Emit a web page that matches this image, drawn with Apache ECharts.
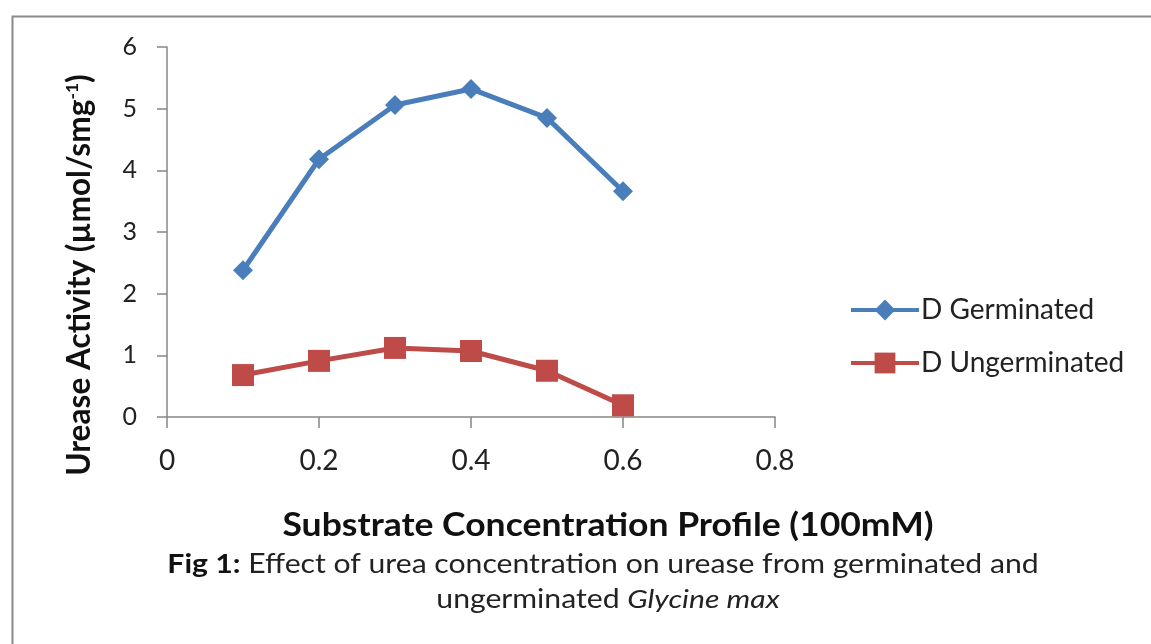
<!DOCTYPE html>
<html><head><meta charset="utf-8">
<script src="https://cdn.jsdelivr.net/npm/echarts@6/dist/echarts.min.js"></script>
<style>html,body{margin:0;padding:0;background:#fff}#c{width:1151px;height:644px}</style>
</head><body><div id="c"></div>
<script>
const xValues = [0.1, 0.2, 0.3, 0.4, 0.5, 0.6];
const germinated = [2.38, 4.18, 5.06, 5.32, 4.85, 3.66];
const ungerminated = [0.68, 0.91, 1.12, 1.07, 0.75, 0.19];
const seriesNames = ['D Germinated', 'D Ungerminated'];
const xTitle = 'Substrate Concentration Profile (100mM)';
const yTitle = 'Urease Activity (µmol/smg{sup|-1})';
const caption1 = '{b|Fig 1:} Effect of urea concentration on urease from germinated and';
const caption2 = 'ungerminated {i|Glycine max}';
const FONT = 'Lato';

const chart = echarts.init(document.getElementById('c'), null, {renderer: 'canvas'});
const axisColor = '#878787';
chart.setOption({
  animation: false,
  backgroundColor: '#fff',
  textStyle: {fontFamily: FONT},
  grid: {left: 167, right: 376, top: 47, bottom: 227},
  legend: {
    orient: 'vertical', left: 844, top: 291, itemWidth: 68, itemHeight: 26, itemGap: 25,
    lineStyle: {width: 4},
    textStyle: {fontFamily: FONT, fontSize: 28, color: '#222', padding: [0, 0, 0, -3]},
    data: seriesNames
  },
  xAxis: {
    type: 'value', min: 0, max: 0.8, interval: 0.2,
    axisLine: {lineStyle: {color: axisColor, width: 1.5}},
    axisTick: {show: true, length: 11, lineStyle: {color: axisColor, width: 1.5}},
    axisLabel: {fontFamily: FONT, fontSize: 28, color: '#222', margin: 30, formatter: v => String(v)},
    splitLine: {show: false}
  },
  yAxis: {
    type: 'value', min: 0, max: 6, interval: 1,
    axisLine: {show: true, lineStyle: {color: axisColor, width: 1.5}},
    axisTick: {show: true, length: 10, lineStyle: {color: axisColor, width: 1.5}},
    axisLabel: {fontFamily: FONT, fontSize: 25, color: '#222', margin: 30},
    splitLine: {show: false}
  },
  series: [
    {
      name: seriesNames[0], type: 'line', data: xValues.map((x, i) => [x, germinated[i]]),
      symbol: 'diamond', symbolSize: 20, color: '#4A7EBB',
      lineStyle: {width: 5, color: '#4A7EBB'}, itemStyle: {color: '#4A7EBB'}
    },
    {
      name: seriesNames[1], type: 'line', data: xValues.map((x, i) => [x, ungerminated[i]]),
      symbol: 'rect', symbolSize: 22, color: '#BE4B48',
      lineStyle: {width: 5, color: '#BE4B48'}, itemStyle: {color: '#BE4B48'}
    }
  ],
  graphic: [
    {type: 'rect', left: 10, top: 14, shape: {width: 1200, height: 700},
     style: {fill: 'none', stroke: '#8a8a8a', lineWidth: 2}, silent: true},
    {type: 'text', x: 80, y: 275, rotation: Math.PI / 2, scaleX: 1.09, scaleY: 1.1,
     style: {
       text: yTitle,
       font: 'bold 29px ' + FONT, fill: '#111', align: 'center', verticalAlign: 'middle',
       rich: {sup: {fontFamily: FONT, fontWeight: 'bold', fontSize: 16, fill: '#111', padding: [0, 0, 14, 0]}}
     }},
    {type: 'text', x: 608, y: 526, scaleX: 1.11,
     style: {
       text: xTitle,
       font: 'bold 32px ' + FONT, fill: '#111', align: 'center', verticalAlign: 'middle'
     }},
    {type: 'text', x: 603, y: 565, scaleX: 1.16,
     style: {
       text: caption1,
       font: '26px ' + FONT, fill: '#222', align: 'center', verticalAlign: 'middle',
       rich: {b: {fontFamily: FONT, fontWeight: 'bold', fontSize: 26, fill: '#111'}}
     }},
    {type: 'text', x: 608, y: 600, scaleX: 1.16,
     style: {
       text: caption2,
       font: '26px ' + FONT, fill: '#222', align: 'center', verticalAlign: 'middle',
       rich: {i: {fontFamily: FONT, fontStyle: 'italic', fontSize: 26, fill: '#222'}}
     }}
  ]
});
</script></body></html>
